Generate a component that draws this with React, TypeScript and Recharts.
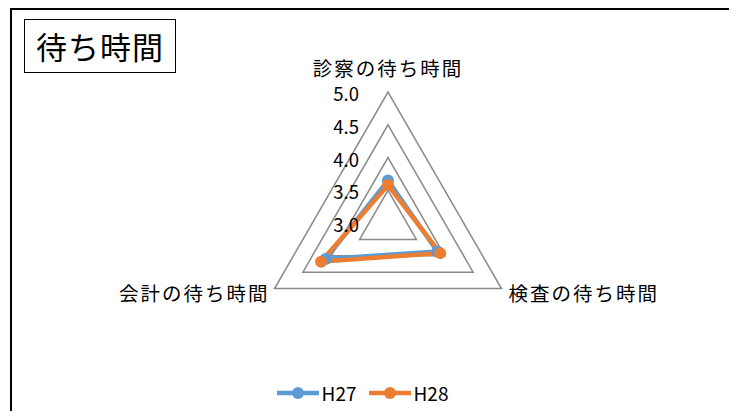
import { Legend, PolarAngleAxis, PolarGrid, PolarRadiusAxis, Radar, RadarChart } from 'recharts';

const categories = ['診察の待ち時間', '検査の待ち時間', '会計の待ち時間'];
const h27 = [3.65, 3.87, 4.1];
const h28 = [3.58, 3.92, 4.18];
const radiusTicks = [3.0, 3.5, 4.0, 4.5, 5.0];

const series = [
  { key: 'h27', name: 'H27', color: '#5B9BD5' },
  { key: 'h28', name: 'H28', color: '#ED7D31' },
];

const data = categories.map((c, i) => ({ category: c, h27: h27[i], h28: h28[i] }));

const FONT = '"Noto Sans CJK JP", "Noto Sans", sans-serif';

function AngleTick(props: any) {
  const { x, y, payload, cx } = props;
  let anchor: 'middle' | 'start' | 'end' = 'middle';
  let dx = 0;
  let dy = 0;
  if (Math.abs(x - cx) < 2) {
    dy = -17;
  } else if (x > cx) {
    anchor = 'start';
  } else {
    anchor = 'end';
    dx = 2;
  }
  return (
    <text
      x={x + dx}
      y={y + dy}
      textAnchor={anchor}
      dominantBaseline="central"
      fontSize={19.5}
      letterSpacing={2}
      fill="#000"
      fontFamily={FONT}
    >
      {payload.value}
    </text>
  );
}

function RadiusTick(props: any) {
  const { x, y, payload } = props;
  return (
    <text x={x - 29} y={y + 1} textAnchor="end" dominantBaseline="central" fontSize={18.5} fill="#000" fontFamily={FONT}>
      {Number(payload.value).toFixed(1)}
    </text>
  );
}

function LegendContent() {
  return (
    <div style={{ display: 'flex', justifyContent: 'center', alignItems: 'center', fontFamily: FONT, fontSize: 19 }}>
      {series.map((s) => (
        <div key={s.key} style={{ display: 'flex', alignItems: 'center', marginRight: 12 }}>
          <svg width={42} height={14} style={{ marginRight: 3 }}>
            <line x1={0} y1={7} x2={42} y2={7} stroke={s.color} strokeWidth={4.5} />
            <circle cx={21} cy={7} r={6} fill={s.color} />
          </svg>
          <span>{s.name}</span>
        </div>
      ))}
    </div>
  );
}

export default function App() {
  return (
    <div style={{ position: 'relative', width: 737, height: 419, background: '#fff', overflow: 'hidden', margin: -8 }}>
      <div
        style={{
          position: 'absolute',
          left: 10,
          top: 8,
          width: 719,
          height: 430,
          border: '2px solid #000',
        }}
      />
      <div
        style={{
          position: 'absolute',
          left: 24,
          top: 19,
          width: 150,
          height: 52,
          border: '1.5px solid #000',
          fontFamily: FONT,
          fontSize: 31,
          letterSpacing: 1,
          lineHeight: '52px',
          textAlign: 'center',
        }}
      >
        待ち時間
      </div>
      <div style={{ position: 'absolute', left: 0, top: 0 }}>
        <RadarChart width={737} height={419} data={data} cx={388} cy={223} outerRadius={131} startAngle={90} endAngle={-270}>
          <PolarGrid gridType="polygon" radialLines={false} stroke="#898989" strokeWidth={1.5} />
          <PolarAngleAxis dataKey="category" axisLine={false} tickLine={false} tick={<AngleTick cx={388} />} />
          <PolarRadiusAxis
            angle={90}
            domain={[3, 5]}
            ticks={radiusTicks}
            axisLine={false}
            tickLine={false}
            tick={<RadiusTick />}
          />
          {series.map((s) => (
            <Radar
              key={s.key}
              name={s.name}
              dataKey={s.key}
              stroke={s.color}
              strokeWidth={4.5}
              fill="none"
              fillOpacity={0}
              dot={{ r: 6, fill: s.color, stroke: s.color, strokeWidth: 0, fillOpacity: 1 }}
              isAnimationActive={false}
            />
          ))}
          <Legend content={<LegendContent />} wrapperStyle={{ left: 0, top: 379, width: 737 }} />
        </RadarChart>
      </div>
    </div>
  );
}
